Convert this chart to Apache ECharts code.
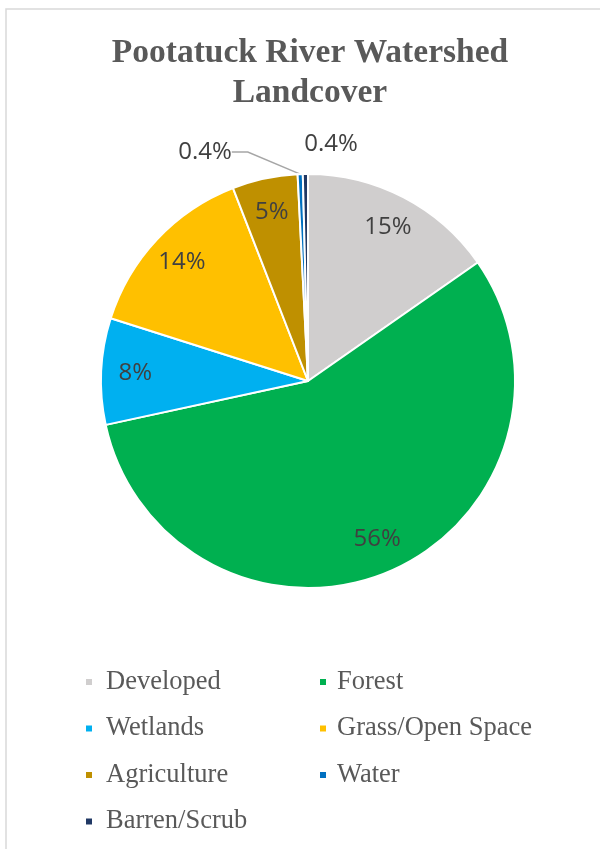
<!DOCTYPE html>
<html>
<head>
<meta charset="utf-8">
<script src="https://cdn.jsdelivr.net/npm/echarts@6/dist/echarts.min.js"></script>
<style>
html, body { margin: 0; padding: 0; background: #fff; }
#main { width: 600px; height: 849px; }
</style>
</head>
<body>
<div id="main"></div>
<script>
// landcover shares (percent)
var categories = ['Developed', 'Forest', 'Wetlands', 'Grass/Open Space', 'Agriculture', 'Water', 'Barren/Scrub'];
var shares = [15.3, 56.3, 8.3, 14.2, 5.1, 0.4, 0.4];
var colors = ['#d0cece', '#00b050', '#00b0f0', '#ffc000', '#bf9000', '#0070c0', '#203864'];
var legendLeft = ['Developed', 'Wetlands', 'Agriculture', 'Barren/Scrub'];
var legendRight = ['Forest', 'Grass/Open Space', 'Water'];

function pct(v) {
    return v < 1 ? v.toFixed(1) + '%' : Math.round(v) + '%';
}

var pieData = [];
var labelData = [];
for (var i = 0; i < categories.length; i++) {
    var small = shares[i] < 1;
    pieData.push({
        name: categories[i],
        value: shares[i],
        itemStyle: { color: colors[i] },
        label: { show: small },
        labelLine: { show: small && i == 5 }
    });
    labelData.push({
        name: categories[i],
        value: shares[i],
        label: { show: !small }
    });
}

function legendText(pad) {
    return { fontFamily: 'Liberation Serif', fontSize: 26.5, color: '#595959', lineHeight: 30, padding: [0, 0, 0, pad] };
}

var chart = echarts.init(document.getElementById('main'));
var option = {
    backgroundColor: '#fff',
    animation: false,
    color: colors,
    title: {
        text: 'Pootatuck River Watershed\nLandcover',
        left: 305,
        top: 28,
        textAlign: 'center',
        textStyle: { fontFamily: 'Liberation Serif', fontWeight: 'bold', fontSize: 33.5, color: '#595959', lineHeight: 40 }
    },
    graphic: [{
        type: 'rect',
        shape: { x: 6, y: 9, width: 700, height: 900 },
        style: { fill: 'none', stroke: '#d9d9d9', lineWidth: 1.5 },
        silent: true
    }],
    legend: [{
        data: legendLeft,
        orient: 'vertical',
        left: 79,
        top: 662,
        icon: 'rect',
        itemWidth: 8,
        itemHeight: 8,
        itemGap: 16.5,
        textStyle: legendText(8)
    }, {
        data: legendRight,
        orient: 'vertical',
        left: 313,
        top: 662,
        icon: 'rect',
        itemWidth: 8,
        itemHeight: 8,
        itemGap: 16.5,
        textStyle: legendText(5)
    }],
    series: [{
        name: 'Landcover',
        type: 'pie',
        center: [308, 381],
        radius: [0, 207],
        startAngle: 90,
        clockwise: true,
        avoidLabelOverlap: false,
        itemStyle: { borderColor: '#fff', borderWidth: 2 },
        label: {
            position: 'outside',
            formatter: function (p) { return pct(p.value); },
            fontFamily: 'Open Sans',
            fontSize: 24,
            color: '#404040'
        },
        labelLine: { length: 14, length2: 16, lineStyle: { color: '#a6a6a6', width: 1.5 } },
        labelLayout: function (p) {
            if (p.dataIndex == 6) {
                return { x: 331, y: 144, align: 'center', verticalAlign: 'middle' };
            }
            if (p.dataIndex == 5) {
                return { x: 205, y: 152, align: 'center', verticalAlign: 'middle' };
            }
        },
        data: pieData
    }, {
        name: 'labels',
        type: 'pie',
        center: [308, 381],
        radius: [0, 340],
        startAngle: 90,
        clockwise: true,
        silent: true,
        legendHoverLink: false,
        itemStyle: { color: 'rgba(0,0,0,0)' },
        label: {
            position: 'inside',
            formatter: function (p) { return pct(p.value); },
            fontFamily: 'Open Sans',
            fontSize: 24,
            color: '#404040'
        },
        labelLine: { show: false },
        data: labelData
    }]
};
chart.setOption(option);
</script>
</body>
</html>
